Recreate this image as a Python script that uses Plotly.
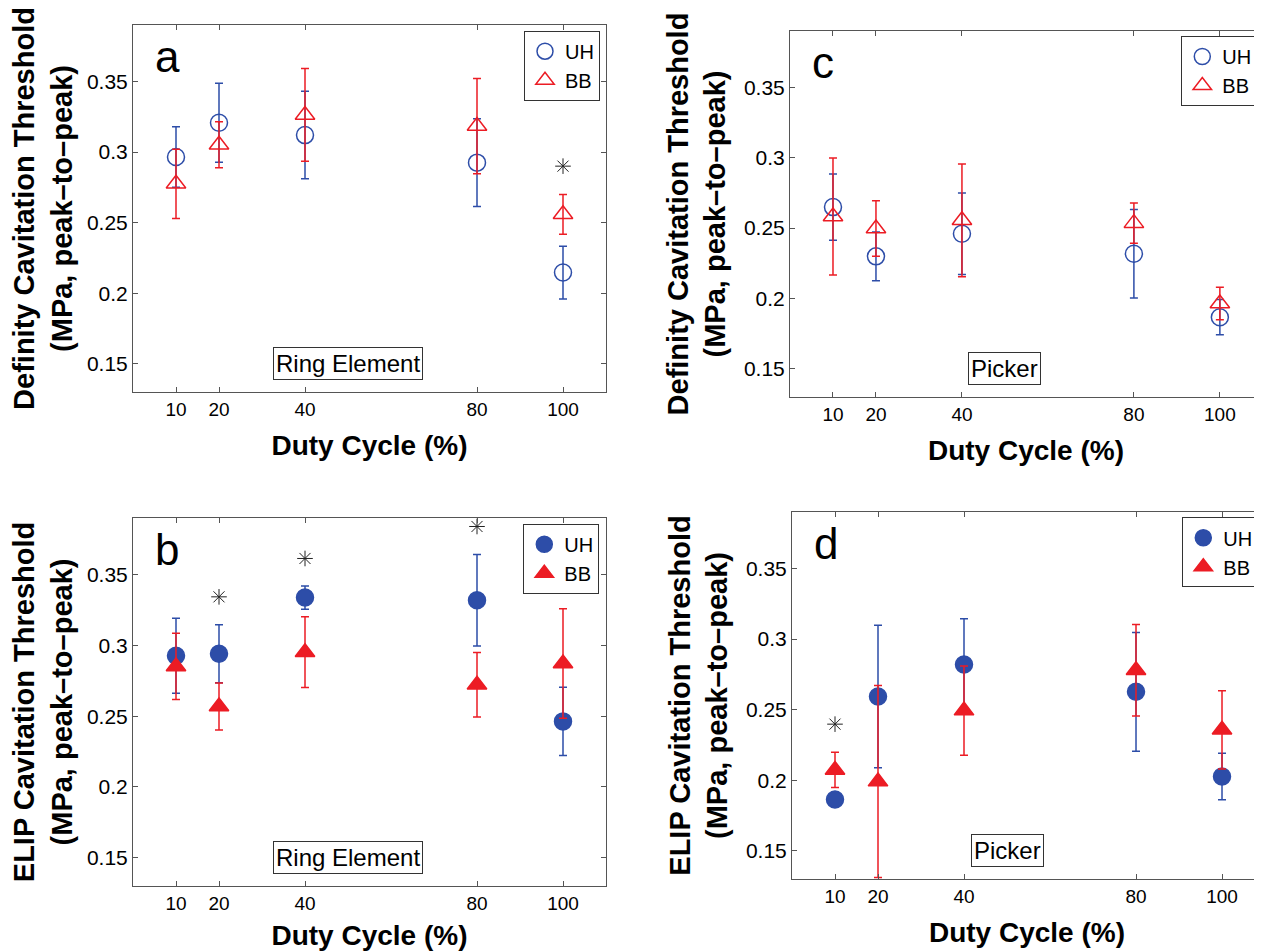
import plotly.graph_objects as go

# ---------------- data ----------------
duty = [10, 20, 40, 80, 100]
x_ticks = [10, 20, 40, 80, 100]
y_ticks = [0.15, 0.2, 0.25, 0.3, 0.35]
y_tick_text = ["0.15", "0.2", "0.25", "0.3", "0.35"]

# Panel a: Definity, Ring Element
uh_a = [0.2965, 0.3208, 0.3120, 0.2925, 0.2146]
uh_a_err = [0.0214, 0.0280, 0.0310, 0.0310, 0.0187]
bb_a = [0.2775, 0.3052, 0.3263, 0.3184, 0.2559]
bb_a_err = [0.0245, 0.0163, 0.0329, 0.0337, 0.0141]
star_a_x = [100]
star_a_y = [0.290]

# Panel b: ELIP, Ring Element
uh_b = [0.2927, 0.2941, 0.3338, 0.3319, 0.2463]
uh_b_err = [0.0265, 0.0205, 0.0082, 0.0324, 0.0241]
bb_b = [0.2851, 0.2568, 0.2952, 0.2722, 0.2872]
bb_b_err = [0.0234, 0.0166, 0.0250, 0.0228, 0.0386]
star_b_x = [20, 40, 80]
star_b_y = [0.3343, 0.3614, 0.3840]

# Panel c: Definity, Picker
uh_c = [0.2649, 0.2299, 0.2460, 0.2318, 0.1867]
uh_c_err = [0.0235, 0.0173, 0.0290, 0.0314, 0.0125]
bb_c = [0.2582, 0.2497, 0.2555, 0.2535, 0.1964]
bb_c_err = [0.0416, 0.0198, 0.0400, 0.0143, 0.0116]

# Panel d: ELIP, Picker
uh_d = [0.1863, 0.2593, 0.2820, 0.2626, 0.2026]
uh_d_err = [0.0050, 0.0505, 0.0324, 0.0421, 0.0165]
bb_d = [0.2073, 0.1990, 0.2493, 0.2779, 0.2357]
bb_d_err = [0.0125, 0.0680, 0.0316, 0.0324, 0.0277]
star_d_x = [10]
star_d_y = [0.2397]

panel_letters = ["a", "b", "c", "d"]
box_labels = ["Ring Element", "Ring Element", "Picker", "Picker"]
y_titles = ["Definity Cavitation Threshold<br>(MPa, peak\u2013to\u2013peak)",
            "ELIP Cavitation Threshold<br>(MPa, peak\u2013to\u2013peak)",
            "Definity Cavitation Threshold<br>(MPa, peak\u2013to\u2013peak)",
            "ELIP Cavitation Threshold<br>(MPa, peak\u2013to\u2013peak)"]
x_title = "Duty Cycle (%)"
series_names = ["UH", "BB"]

# ---------------- style ----------------
OFF = 8                      # page body margin in the browser
W, H = 1262 - OFF, 951 - OFF
FONT = "Liberation Sans, Arial, Helvetica, sans-serif"
BLUE = "#2D4DA8"
RED = "#EC1C24"
AX = "#555555"


def px_x(p):
    return min(max((p - OFF) / W, 0.0), 1.0)


def px_y(p):
    return min(max(1 - (p - OFF) / H, 0.0), 1.0)


panels = [
    # (axis suffix, x px range, y px range (top,bottom), x range, uh, uh_err, bb, bb_err, stars, filled)
    ("", (133, 606), (25, 392), [0, 110], uh_a, uh_a_err, bb_a, bb_a_err, (star_a_x, star_a_y), False),
    ("2", (133, 606), (518, 886), [0, 110], uh_b, uh_b_err, bb_b, bb_b_err, (star_b_x, star_b_y), True),
    ("3", (790, 1262), (31, 397), [0, 109.8], uh_c, uh_c_err, bb_c, bb_c_err, ([], []), False),
    ("4", (792, 1262), (512, 879), [0, 109.3], uh_d, uh_d_err, bb_d, bb_d_err, (star_d_x, star_d_y), True),
]
legend_px = [(600, 30.7), (599.3, 523.7), (1257.3, 36), (1258.3, 517.3)]

fig = go.Figure()
layout = dict(
    width=W, height=H,
    margin=dict(l=0, r=0, t=0, b=0),
    paper_bgcolor="white", plot_bgcolor="white",
    font=dict(family=FONT, color="black", size=19),
    annotations=[], showlegend=True,
)

for i, (sfx, xpx, ypx, xr, uh, uhe, bb, bbe, stars, filled) in enumerate(panels):
    xa = "x" + sfx
    ya = "y" + sfx
    leg = "legend" if i == 0 else "legend%d" % (i + 1)
    uh_sym = "circle" if filled else "circle-open"
    bb_sym = "triangle-up" if filled else "triangle-up-open"
    fig.add_trace(go.Scatter(
        x=duty, y=uh, mode="markers", name=series_names[0], xaxis=xa, yaxis=ya, legend=leg,
        marker=dict(symbol=uh_sym, size=17, color=BLUE, line=dict(color=BLUE, width=1.5)),
        error_y=dict(type="data", array=uhe, visible=True, color=BLUE, thickness=1.5, width=4),
    ))
    fig.add_trace(go.Scatter(
        x=duty, y=bb, mode="markers", name=series_names[1], xaxis=xa, yaxis=ya, legend=leg,
        marker=dict(symbol=bb_sym, size=17, color=RED, line=dict(color=RED, width=1.5)),
        error_y=dict(type="data", array=bbe, visible=True, color=RED, thickness=1.5, width=4),
    ))
    if stars[0]:
        fig.add_trace(go.Scatter(
            x=stars[0], y=stars[1], mode="markers", showlegend=False, xaxis=xa, yaxis=ya,
            marker=dict(symbol="asterisk-open", size=13, color="#222222",
                        line=dict(color="#222222", width=1)),
            hoverinfo="skip",
        ))

    xdom = [px_x(xpx[0]), px_x(xpx[1])]
    ydom = [px_y(ypx[1]), px_y(ypx[0])]
    layout["xaxis" + sfx] = dict(
        domain=xdom, range=xr, anchor=ya, tickmode="array", tickvals=x_ticks,
        ticks="inside", ticklen=5, tickcolor=AX, showline=True, linecolor=AX, linewidth=1,
        mirror="ticks", showgrid=False, zeroline=False, automargin=False,
        tickfont=dict(size=19, family=FONT, color="black"),
        title=dict(text="<b>" + x_title + "</b>", font=dict(size=28, family=FONT), standoff=16),
    )
    layout["yaxis" + sfx] = dict(
        domain=ydom, range=[0.13, 0.39], anchor=xa, tickmode="array", tickvals=y_ticks,
        ticktext=y_tick_text,
        ticks="inside", ticklen=5, tickcolor=AX, showline=True, linecolor=AX, linewidth=1,
        mirror="ticks", showgrid=False, zeroline=False, automargin=False,
        tickfont=dict(size=21, family=FONT, color="black"),
        title=dict(text="<b>" + y_titles[i] + "</b>", font=dict(size=29, family=FONT), standoff=9),
    )
    lx, ly = legend_px[i]
    layout[leg] = dict(
        x=px_x(lx), y=px_y(ly), xanchor="right", yanchor="top", xref="paper", yref="paper",
        bordercolor="#333333", borderwidth=1, bgcolor="white",
        font=dict(size=20, family=FONT, color="black"), tracegroupgap=0,
    )
    layout["annotations"].append(dict(
        text=panel_letters[i], xref=xa + " domain", yref=ya + " domain",
        x=0.043, y=0.915, xanchor="left", yanchor="middle", showarrow=False,
        font=dict(size=44, family=FONT, color="black"),
    ))
    layout["annotations"].append(dict(
        text=box_labels[i], xref=xa, yref=ya, x=50, y=0.15,
        xanchor="center", yanchor="middle", showarrow=False,
        font=dict(size=24, family=FONT, color="black"),
        bordercolor="#333333", borderwidth=1, borderpad=2, bgcolor="white",
    ))

fig.update_layout(**layout)
fig.write_html("out.html")
